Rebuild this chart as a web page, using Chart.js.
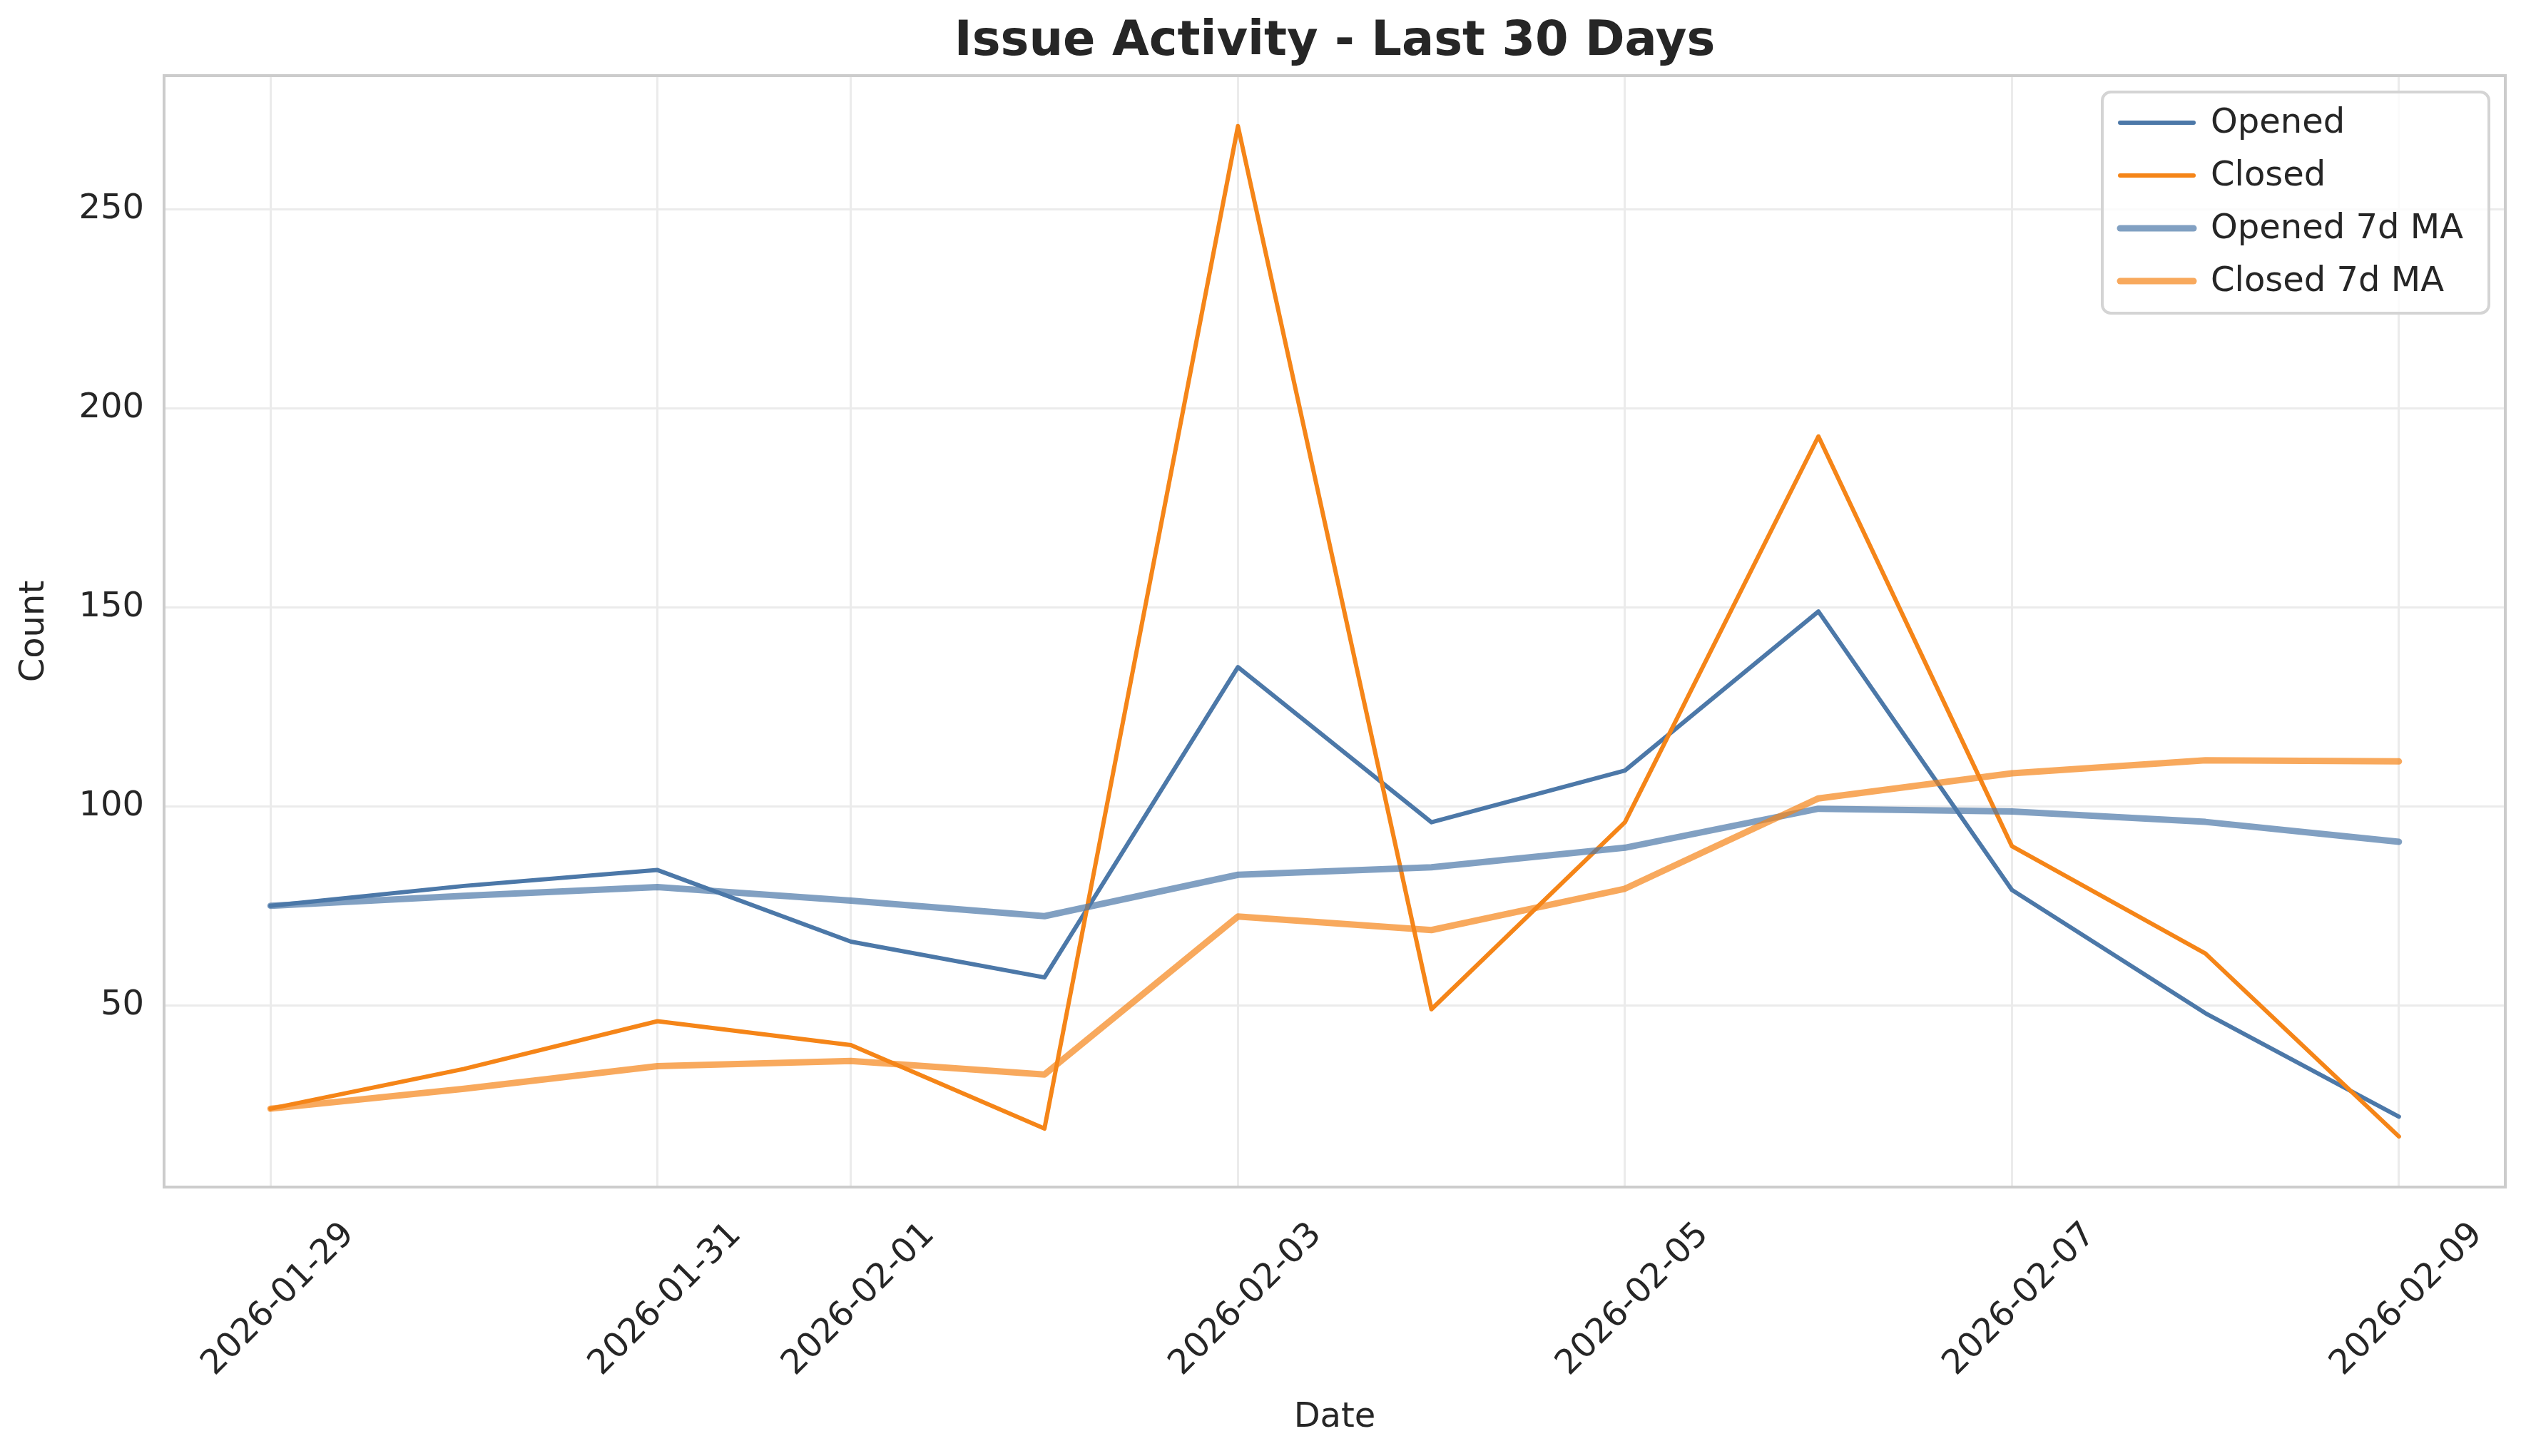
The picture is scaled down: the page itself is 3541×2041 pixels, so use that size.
<!DOCTYPE html>
<html lang="en">
<head>
<meta charset="UTF-8">
<script src="https://cdn.jsdelivr.net/npm/chart.js"></script>
<style>
    html, body { margin: 0; padding: 0; background: #ffffff; }
    #chartDiv { width: 3541px; height: 2041px; }
</style>
<title>Issue Activity</title>
</head>
<body>
<div id="chartDiv"><canvas id="issueChart"></canvas></div>
<script>
    // values
    var dates = ['2026-01-29', '2026-01-30', '2026-01-31', '2026-02-01', '2026-02-02', '2026-02-03',
                 '2026-02-04', '2026-02-05', '2026-02-06', '2026-02-07', '2026-02-08', '2026-02-09'];
    var openedCounts = [75, 80, 84, 66, 57, 135, 96, 109, 149, 79, 48, 22];
    var closedCounts = [24, 34, 46, 40, 19, 271, 49, 96, 193, 90, 63, 17];
    var openedMA = [75, 77.5, 79.7, 76.3, 72.4, 82.8, 84.7, 89.6, 99.4, 98.7, 96.1, 91.1];
    var closedMA = [24, 29, 34.7, 36, 32.6, 72.3, 68.9, 79.3, 102, 108.3, 111.6, 111.3];
    var tickDates = ['2026-01-29', '2026-01-31', '2026-02-01', '2026-02-03', '2026-02-05', '2026-02-07', '2026-02-09'];
    var yTicks = [50, 100, 150, 200, 250];
    var chartTitle = 'Issue Activity - Last 30 Days';

    var textColor = '#262626';
    var fontName = '"DejaVu Sans", sans-serif';

    function points(vals) {
        return vals.map(function (v, i) { return { x: i, y: v }; });
    }

    // title centred over the plot area, not the whole canvas
    var plotTitle = {
        id: 'plotTitle',
        afterDraw: function (chart) {
            var a = chart.chartArea;
            var c = chart.ctx;
            c.save();
            c.font = 'bold 67px ' + fontName;
            c.fillStyle = textColor;
            c.textAlign = 'center';
            c.textBaseline = 'middle';
            c.fillText(chartTitle, (a.left + a.right) / 2, 60);
            c.restore();
        }
    };

    // legend in a rounded box, top right inside the plot
    var boxLegend = {
        id: 'boxLegend',
        afterDatasetsDraw: function (chart) {
            var c = chart.ctx;
            var area = chart.chartArea;
            var items = chart.data.datasets;
            c.save();
            c.font = '48px ' + fontName;
            var textW = 0;
            items.forEach(function (d) { textW = Math.max(textW, c.measureText(d.label).width); });
            var w = 152 + textW + 36;
            var h = 310;
            var x0 = area.right - 23 - w;
            var y0 = area.top + 23;
            c.beginPath();
            c.roundRect(x0, y0, w, h, 12);
            c.fillStyle = 'rgba(255,255,255,0.8)';
            c.fill();
            c.lineWidth = 4;
            c.strokeStyle = '#d4d4d4';
            c.stroke();
            items.forEach(function (d, i) {
                var cy = y0 + 43 + i * 74;
                c.beginPath();
                c.moveTo(x0 + 25, cy);
                c.lineTo(x0 + 128, cy);
                c.lineWidth = d.borderWidth;
                c.strokeStyle = d.borderColor;
                c.lineCap = 'round';
                c.stroke();
                c.fillStyle = textColor;
                c.textAlign = 'left';
                c.textBaseline = 'middle';
                c.fillText(d.label, x0 + 152, cy + 2);
            });
            c.restore();
        }
    };

    // light grey frame round the plot
    var frame = {
        id: 'frame',
        afterDraw: function (chart) {
            var a = chart.chartArea;
            var c = chart.ctx;
            c.save();
            c.lineWidth = 4;
            c.strokeStyle = '#cccccc';
            c.strokeRect(a.left, a.top, a.right - a.left, a.bottom - a.top);
            c.restore();
        }
    };

    var canvasEl = document.getElementById('issueChart');

    var chart = new Chart(canvasEl, {
        type: 'line',
        data: {
            datasets: [
                { label: 'Opened', data: points(openedCounts), borderColor: '#4c78a8', borderWidth: 6, order: 4 },
                { label: 'Closed', data: points(closedCounts), borderColor: '#f58518', borderWidth: 6, order: 3 },
                { label: 'Opened 7d MA', data: points(openedMA), borderColor: 'rgba(76,120,168,0.7)', borderWidth: 9, order: 2 },
                { label: 'Closed 7d MA', data: points(closedMA), borderColor: 'rgba(245,133,24,0.7)', borderWidth: 9, order: 1 }
            ]
        },
        options: {
            responsive: true,
            maintainAspectRatio: false,
            devicePixelRatio: 1,
            animation: false,
            elements: {
                point: { radius: 0 },
                line: { tension: 0, borderCapStyle: 'round', borderJoinStyle: 'round', fill: false }
            },
            layout: { padding: { top: 106, right: 29, bottom: 0, left: 0 } },
            plugins: {
                legend: { display: false },
                tooltip: { enabled: false },
                title: { display: false }
            },
            scales: {
                x: {
                    type: 'linear',
                    min: -0.55,
                    max: 11.55,
                    afterBuildTicks: function (scale) {
                        scale.ticks = tickDates.map(function (d) { return { value: dates.indexOf(d) }; });
                    },
                    afterFit: function (scale) { scale.height = 377; },
                    ticks: {
                        autoSkip: false,
                        maxRotation: 45,
                        minRotation: 45,
                        padding: 39,
                        labelOffset: 110,
                        color: textColor,
                        font: { family: fontName, size: 48 },
                        callback: function (v) { return dates[v]; }
                    },
                    grid: { color: '#ebebeb', lineWidth: 3, drawTicks: false },
                    border: { display: false },
                    title: {
                        display: true,
                        text: 'Date',
                        color: textColor,
                        font: { family: fontName, size: 48, lineHeight: 1.2 },
                        padding: { top: 0, bottom: 25 }
                    }
                },
                y: {
                    min: 4.3,
                    max: 283.7,
                    afterBuildTicks: function (scale) {
                        scale.ticks = yTicks.map(function (v) { return { value: v }; });
                    },
                    afterFit: function (scale) { scale.width = 230; },
                    ticks: {
                        padding: 28,
                        color: textColor,
                        font: { family: fontName, size: 48 }
                    },
                    grid: { color: '#ebebeb', lineWidth: 3, drawTicks: false },
                    border: { display: false },
                    title: {
                        display: true,
                        text: 'Count',
                        color: textColor,
                        font: { family: fontName, size: 48, lineHeight: 1.2 },
                        padding: { top: 20, bottom: 0 }
                    }
                }
            }
        },
        plugins: [frame, boxLegend, plotTitle]
    });
</script>
</body>
</html>
